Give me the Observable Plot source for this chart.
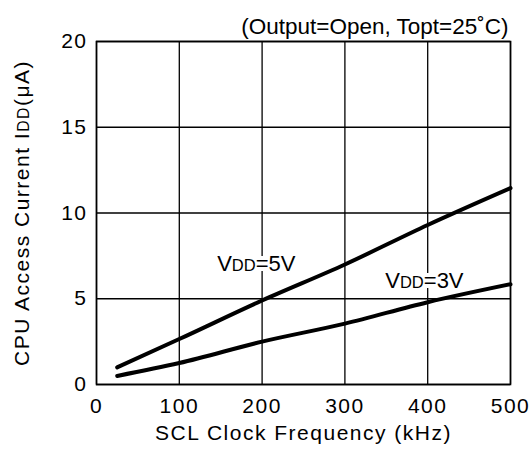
<!DOCTYPE html>
<html>
<head>
<meta charset="utf-8">
<script src="https://cdn.jsdelivr.net/npm/d3@7"></script>
<script src="https://cdn.jsdelivr.net/npm/@observablehq/plot@0.6"></script>
<style>
  body { margin: 0; background: #fff; }
  svg { font-family: "Liberation Sans", Arial, sans-serif; }
</style>
</head>
<body>
<div id="chart"></div>
<script>
const freq = [25, 100, 200, 300, 400, 500];
const vdd5 = [1.0, 2.65, 4.9, 7.0, 9.3, 11.45];
const vdd3 = [0.5, 1.25, 2.5, 3.55, 4.8, 5.85];
const xTicks = [0, 100, 200, 300, 400, 500];
const yTicks = [0, 5, 10, 15, 20];
const seriesLabels = [
  {text: "VDD=5V", x: 193, y: 7.0},
  {text: "VDD=3V", x: 396, y: 6.05}
];
const title = "(Output=Open, Topt=25˚C)";
const xTitle = "SCL Clock Frequency (kHz)";
const yTitle = "CPU Access Current IDD(μA)";

const rows = [
  ...freq.map((f, i) => ({f, v: vdd5[i], s: "5V"})),
  ...freq.map((f, i) => ({f, v: vdd3[i], s: "3V"}))
];

const plot = Plot.plot({
  width: 532,
  height: 455,
  marginLeft: 96,
  marginRight: 22,
  marginTop: 41,
  marginBottom: 71,
  style: {background: "#fff", color: "#000", overflow: "visible"},
  x: {domain: [0, 500], ticks: xTicks},
  y: {domain: [0, 20], ticks: yTicks},
  marks: [
    Plot.gridX(xTicks, {stroke: "#000", strokeOpacity: 1, strokeWidth: 1.3}),
    Plot.gridY(yTicks, {stroke: "#000", strokeOpacity: 1, strokeWidth: 1.3}),
    Plot.frame({stroke: "#000", strokeWidth: 1.6}),
    Plot.axisX(xTicks, {tickSize: 0, tickPadding: 14, fontSize: 21, label: null}),
    Plot.axisY(yTicks, {tickSize: 0, tickPadding: 9, fontSize: 21, label: null}),
    Plot.line(rows, {x: "f", y: "v", z: "s", stroke: "#000", strokeWidth: 4, curve: "monotone-x"}),
    Plot.text(seriesLabels, {x: "x", y: "y", text: "text", fontSize: 22, fill: "#fff", stroke: "#fff", strokeWidth: 8}),
    Plot.text(seriesLabels, {x: "x", y: "y", text: "text", fontSize: 22, fill: "#000"}),
    Plot.text([title], {frameAnchor: "top-right", dx: -2, dy: -23, fontSize: 22.5, fill: "#000", textAnchor: "end"}),
    Plot.text([xTitle], {frameAnchor: "bottom", dy: 55, fontSize: 21, fill: "#000"}),
    Plot.text([yTitle], {frameAnchor: "left", dx: -74, rotate: -90, textAnchor: "middle", fontSize: 21, fill: "#000"})
  ]
});

// make "DD" small caps
d3.select(plot).selectAll("text").each(function() {
  const t = this.textContent;
  if (t.includes("DD")) {
    this.innerHTML = t.replace("DD", '<tspan font-size="0.75em">DD</tspan>');
  }
});
d3.select(plot).selectAll("text").filter(function(){ return this.textContent.startsWith("SCL") || this.textContent.startsWith("CPU"); }).attr("letter-spacing", "1.5px");
d3.select(plot).selectAll("g[aria-label='x-axis tick label'] text, g[aria-label='y-axis tick label'] text").attr("letter-spacing", "1.5px");

document.getElementById("chart").appendChild(plot);
</script>
</body>
</html>
